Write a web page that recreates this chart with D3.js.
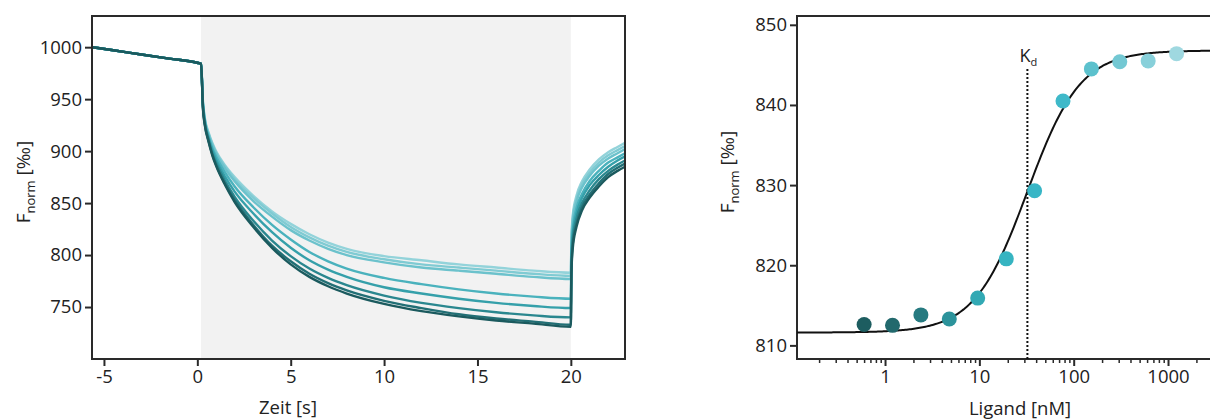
<!DOCTYPE html>
<html><head><meta charset="utf-8">
<script src="https://cdn.jsdelivr.net/npm/d3@7"></script>
<style>body{margin:0;background:#fff}svg{display:block}text{font-family:"Open Sans",sans-serif;fill:#222}</style>
</head><body><svg id="c" width="1210" height="419"></svg>
<script>
// ---------- data: left panel (time traces) ----------
const timeS = [-5.64,-4.5,-3,-1.5,0,0.2,0.3,0.4,0.6,0.8,1,1.5,2,3,4,5,6,7,8,10,12,14,16,18,20,20.03,20.1,20.3,20.6,21,21.5,22,22.5,22.9];
const prePhase = [1000,997,993,989,985,984];
const trace1 = [948,932,918,908,900,886,875,857,842,830,820,812,806,799,795,791,788,785,783,815,838,857,871,882,892,899,904,908];
const trace2 = [947,931,917,907,899,885,873,855,840,827,817,809,803,796,791,788,785,782,780,812,835,854,868,879,889,896,901,905];
const trace3 = [946,930,916,906,898,883,871,852,837,824,814,806,800,793,788,785,782,779,777,809,832,851,865,876,886,893,898,902];
const trace4 = [945,929,914,903,895,879,866,846,829,815,803,794,787,778,772,767,763,760,758,800,825,845,859,871,881,889,894,898];
const trace5 = [944,928,913,901,892,875,861,840,822,807,795,786,779,769,763,758,754,751,749,795,820,840,855,867,877,885,891,895];
const trace6 = [943,927,911,898,889,871,856,833,814,799,787,778,771,761,754,749,745,742,740,790,815,835,850,862,873,881,887,891];
const trace7 = [942,926,910,897,887,868,853,829,809,794,782,773,766,756,749,743,739,736,733,785,810,830,846,858,869,878,884,888];
const trace8 = [941,925,909,896,886,867,851,827,807,791,779,770,763,753,746,741,737,734,731,782,806,827,843,855,866,875,881,885];
const traceColors = ["#93d3da","#80cbd3","#6cc2cc","#4ab2bd","#35a0aa","#2a878f","#226f75","#1b5a5e"];
const leftXTicks = [-5,0,5,10,15,20];
const leftYTicks = [750,800,850,900,950,1000];
const injectionStart = 0.2, injectionEnd = 20;

// ---------- data: right panel (dose response) ----------
const ligandNM = [0.6,1.2,2.4,4.8,9.6,19.3,38.5,77,154,308,616,1232];
const fnormPts = [812.6,812.5,813.8,813.3,815.9,820.8,829.3,840.5,844.5,845.4,845.5,846.4];
const dotColors = ["#1d5d60","#22696d","#267a80","#2c939b","#32a9b4","#36b4c1","#38b6c6","#3fb9c9","#5cc1cd","#73c8d3","#88d0da","#9fd8e0"];
const rightXTicks = [1,10,100,1000];
const rightYTicks = [810,820,830,840,850];
const fitBottom = 811.6, fitTop = 846.8, fitKd = 32.3, fitHill = 1.55;

const svg = d3.select("#c");
const font = '"Open Sans",sans-serif';
const FS = 18.5;

// ================= LEFT PANEL =================
const L = {l:92, r:625, t:16, b:359};
const xL = d3.scaleLinear().domain([-5.64,22.9]).range([L.l,L.r]);
const yL = d3.scaleLinear().domain([700,1030]).range([L.b,L.t]);

const defs = svg.append("defs");
defs.append("clipPath").attr("id","clipL").append("rect")
  .attr("x",L.l).attr("y",L.t).attr("width",L.r-L.l).attr("height",L.b-L.t);

svg.append("rect").attr("x",xL(injectionStart)).attr("y",L.t+1)
  .attr("width",xL(injectionEnd)-xL(injectionStart)).attr("height",L.b-L.t-2)
  .attr("fill","#f2f2f2");

const traces = [trace1,trace2,trace3,trace4,trace5,trace6,trace7,trace8];
const line = d3.line().x(d=>xL(d[0])).y(d=>yL(d[1])).curve(d3.curveMonotoneX);
const gT = svg.append("g").attr("clip-path","url(#clipL)");
traces.forEach((tr,i)=>{
  const vals = prePhase.concat(tr);
  const pts = timeS.map((t,j)=>[t,vals[j]]);
  gT.append("path").attr("d",line(pts)).attr("fill","none")
    .attr("stroke",traceColors[i]).attr("stroke-width",2.4).attr("stroke-linejoin","round");
});

svg.append("rect").attr("x",L.l).attr("y",L.t).attr("width",L.r-L.l).attr("height",L.b-L.t)
  .attr("fill","none").attr("stroke","#2a2a2a").attr("stroke-width",2);

const axL = svg.append("g").attr("transform",`translate(${L.l},0)`)
  .call(d3.axisLeft(yL).tickValues(leftYTicks).tickSize(7).tickPadding(3).tickFormat(d=>String(d)));
const axB = svg.append("g").attr("transform",`translate(0,${L.b})`)
  .call(d3.axisBottom(xL).tickValues(leftXTicks).tickSize(7).tickPadding(4).tickFormat(d=>String(d)));
[axL,axB].forEach(a=>{
  a.select(".domain").remove();
  a.selectAll("line").attr("stroke","#2a2a2a").attr("stroke-width",2);
  a.selectAll("text").attr("font-size",FS).attr("font-family",font).attr("fill","#222");
});

svg.append("text").attr("x",288).attr("y",414).attr("text-anchor","middle")
  .attr("font-size",FS).text("Zeit [s]");

function yLabel(x,y){
  const t = svg.append("text").attr("transform",`translate(${x},${y}) rotate(-90)`)
    .attr("text-anchor","middle").attr("font-size",19);
  t.append("tspan").text("F");
  t.append("tspan").attr("font-size",13).attr("dy",5).text("norm");
  t.append("tspan").attr("dy",-5).text(" [‰]");
}
yLabel(30,182);

// ================= RIGHT PANEL =================
const R = {l:797, r:1230, t:16, b:359};
const xR = d3.scaleLog().domain([0.1166,4540]).range([R.l,R.r]);
const yR = d3.scaleLinear().domain([808.3,851.1]).range([R.b,R.t]);

svg.append("rect").attr("x",R.l).attr("y",R.t).attr("width",R.r-R.l).attr("height",R.b-R.t)
  .attr("fill","none").attr("stroke","#2a2a2a").attr("stroke-width",2);

// minor ticks
const minor = [];
[0.1,1,10,100,1000].forEach(d=>{for(let k=2;k<=9;k++){const v=d*k; if(v>0.15 && v<4540) minor.push(v);}});
svg.append("g").attr("transform",`translate(0,${R.b})`)
  .call(d3.axisBottom(xR).tickValues(minor).tickSize(4).tickFormat(""))
  .call(g=>{g.select(".domain").remove(); g.selectAll("line").attr("stroke","#2a2a2a").attr("stroke-width",1.5);});
const axRB = svg.append("g").attr("transform",`translate(0,${R.b})`)
  .call(d3.axisBottom(xR).tickValues(rightXTicks).tickSize(7).tickPadding(4).tickFormat(d=>String(d)));
const axRL = svg.append("g").attr("transform",`translate(${R.l},0)`)
  .call(d3.axisLeft(yR).tickValues(rightYTicks).tickSize(7).tickPadding(3).tickFormat(d=>String(d)));
[axRB,axRL].forEach(a=>{
  a.select(".domain").remove();
  a.selectAll("line").attr("stroke","#2a2a2a").attr("stroke-width",2);
  a.selectAll("text").attr("font-size",FS).attr("font-family",font).attr("fill","#222");
});

// Kd line
svg.append("line").attr("x1",xR(fitKd)).attr("x2",xR(fitKd)).attr("y1",69).attr("y2",R.b)
  .attr("stroke","#111").attr("stroke-width",2).attr("stroke-dasharray","2,2");
const kd = svg.append("text").attr("x",xR(fitKd)-8).attr("y",62).attr("font-size",18);
kd.append("tspan").text("K");
kd.append("tspan").attr("font-size",11).attr("dy",4).text("d");

// fit curve
const fitX = d3.range(0,301).map(i=>Math.pow(10,Math.log10(0.1166)+i*(Math.log10(4540)-Math.log10(0.1166))/300));
const fit = c => fitBottom + (fitTop-fitBottom)*Math.pow(c/fitKd,fitHill)/(1+Math.pow(c/fitKd,fitHill));
svg.append("path").attr("d",d3.line().x(c=>xR(c)).y(c=>yR(fit(c)))(fitX))
  .attr("fill","none").attr("stroke","#111").attr("stroke-width",2);

// dots
svg.append("g").selectAll("circle").data(ligandNM).join("circle")
  .attr("cx",d=>xR(d)).attr("cy",(d,i)=>yR(fnormPts[i])).attr("r",7.5)
  .attr("fill",(d,i)=>dotColors[i]);

svg.append("text").attr("x",1020).attr("y",415).attr("text-anchor","middle")
  .attr("font-size",FS).text("Ligand [nM]");
yLabel(734,172);
</script></body></html>
